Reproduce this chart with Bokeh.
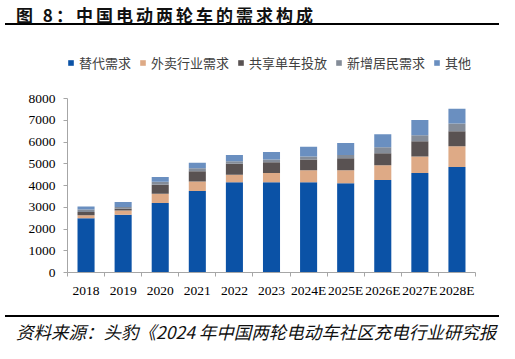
from bokeh.plotting import figure
from bokeh.models import Range1d, FixedTicker, Legend, LegendItem, ColumnDataSource, Div
from bokeh.layouts import column
from bokeh.embed import file_html
from bokeh.resources import INLINE

# ---- data ----
years = ["2018", "2019", "2020", "2021", "2022", "2023",
         "2024E", "2025E", "2026E", "2027E", "2028E"]
replace_demand = [2500, 2650, 3200, 3750, 4150, 4150, 4150, 4100, 4250, 4580, 4850]
delivery_demand = [130, 200, 420, 430, 350, 420, 550, 600, 680, 750, 950]
sharing_bikes = [150, 80, 420, 480, 500, 500, 500, 550, 550, 700, 700]
new_residents = [120, 80, 130, 130, 120, 120, 130, 150, 280, 280, 350]
others = [130, 230, 220, 260, 280, 350, 450, 550, 600, 700, 680]
series_labels = ["替代需求", "外卖行业需求", "共享单车投放", "新增居民需求", "其他"]
series_keys = ["replace", "delivery", "sharing", "residents", "others"]
series_colors = ["#0B52A6", "#DEAA86", "#595252", "#848C98", "#6A8FC0"]
y_ticks = [0, 1000, 2000, 3000, 4000, 5000, 6000, 7000, 8000]
y_axis_max = 8000

title_text = "图 8：中国电动两轮车的需求构成"
source_text = "资料来源：头豹《2024 年中国两轮电动车社区充电行业研究报"

W = 515

# ---- top strip: title with rule below ----
top_div = Div(
    width=W, height=32, margin=(0, 0, 0, 0),
    text=(
        '<div style="margin:0 0 0 5px;padding:5px 0 0 11px;width:494px;height:25px;'
        'border-bottom:2px solid #000000;white-space:nowrap;'
        "font-family:'Noto Sans CJK SC';font-weight:bold;font-size:17px;"
        'letter-spacing:3px;line-height:20px;color:#111111;">' + title_text + '</div>'
    ),
)

# ---- main chart ----
# frame spans 224 px; the axis (0..8000) occupies the lower 174 px of it,
# the upper part holds the legend
frame_px, axis_px = 224, 174
y_end = y_axis_max * frame_px / axis_px

xs = [i + 0.5 for i in range(len(years))]
bounds = list(range(len(years) + 1))
src = ColumnDataSource(dict(x=xs, replace=replace_demand, delivery=delivery_demand,
                            sharing=sharing_bikes, residents=new_residents, others=others))

p = figure(width=W, height=268, x_range=Range1d(0, len(years)), y_range=Range1d(0, y_end),
           output_backend="svg", toolbar_location=None,
           min_border_left=67, min_border_right=40, min_border_top=16, min_border_bottom=28,
           outline_line_color=None)
p.title.text = ""
p.title.visible = False
p.xgrid.visible = False
p.ygrid.visible = False

rs = p.vbar_stack(series_keys, x="x", width=0.46, fill_color=series_colors,
                  line_color=None, source=src)

legend = Legend(items=[LegendItem(label=l, renderers=[r]) for l, r in zip(series_labels, rs)],
                orientation="horizontal", location=(0, 200), padding=0, margin=0,
                spacing=8, glyph_width=7, glyph_height=7, label_standoff=5,
                label_height=20, label_text_font="Noto Sans CJK SC",
                label_text_font_size="13px", label_text_color="#404040",
                border_line_color=None, background_fill_alpha=0)
p.add_layout(legend, "center")

ax = p.xaxis[0]
ax.ticker = FixedTicker(ticks=xs, minor_ticks=bounds)
ax.major_label_overrides = {x: y for x, y in zip(xs, years)}
ax.major_tick_line_color = None
ax.minor_tick_line_color = "#A6A6A6"
ax.minor_tick_out = 4
ax.minor_tick_in = 0
ax.axis_line_color = "#A6A6A6"
ax.major_label_text_font = "Liberation Serif"
ax.major_label_text_font_size = "13.5px"
ax.major_label_text_color = "#000000"
ax.major_label_standoff = 4

ay = p.yaxis[0]
ay.ticker = FixedTicker(ticks=y_ticks)
ay.bounds = (0, y_axis_max)
ay.minor_tick_line_color = None
ay.major_tick_line_color = "#A6A6A6"
ay.major_tick_out = 4
ay.major_tick_in = 0
ay.axis_line_color = "#A6A6A6"
ay.major_label_text_font = "Liberation Serif"
ay.major_label_text_font_size = "13.5px"
ay.major_label_text_color = "#000000"
ay.major_label_standoff = 8

# ---- bottom strip: rule with source below ----
bot_div = Div(
    width=W, height=59, margin=(0, 0, 0, 0),
    text=(
        '<div style="margin:15px 0 0 5px;padding:5px 0 0 11px;width:494px;'
        'border-top:2px solid #000000;white-space:nowrap;'
        "font-family:'Noto Sans CJK SC';font-style:italic;font-size:17.5px;"
        'line-height:20px;color:#111111;">' + source_text + '</div>'
    ),
)

layout = column(top_div, p, bot_div, spacing=0)
open("out.html", "w").write(file_html(layout, INLINE))
